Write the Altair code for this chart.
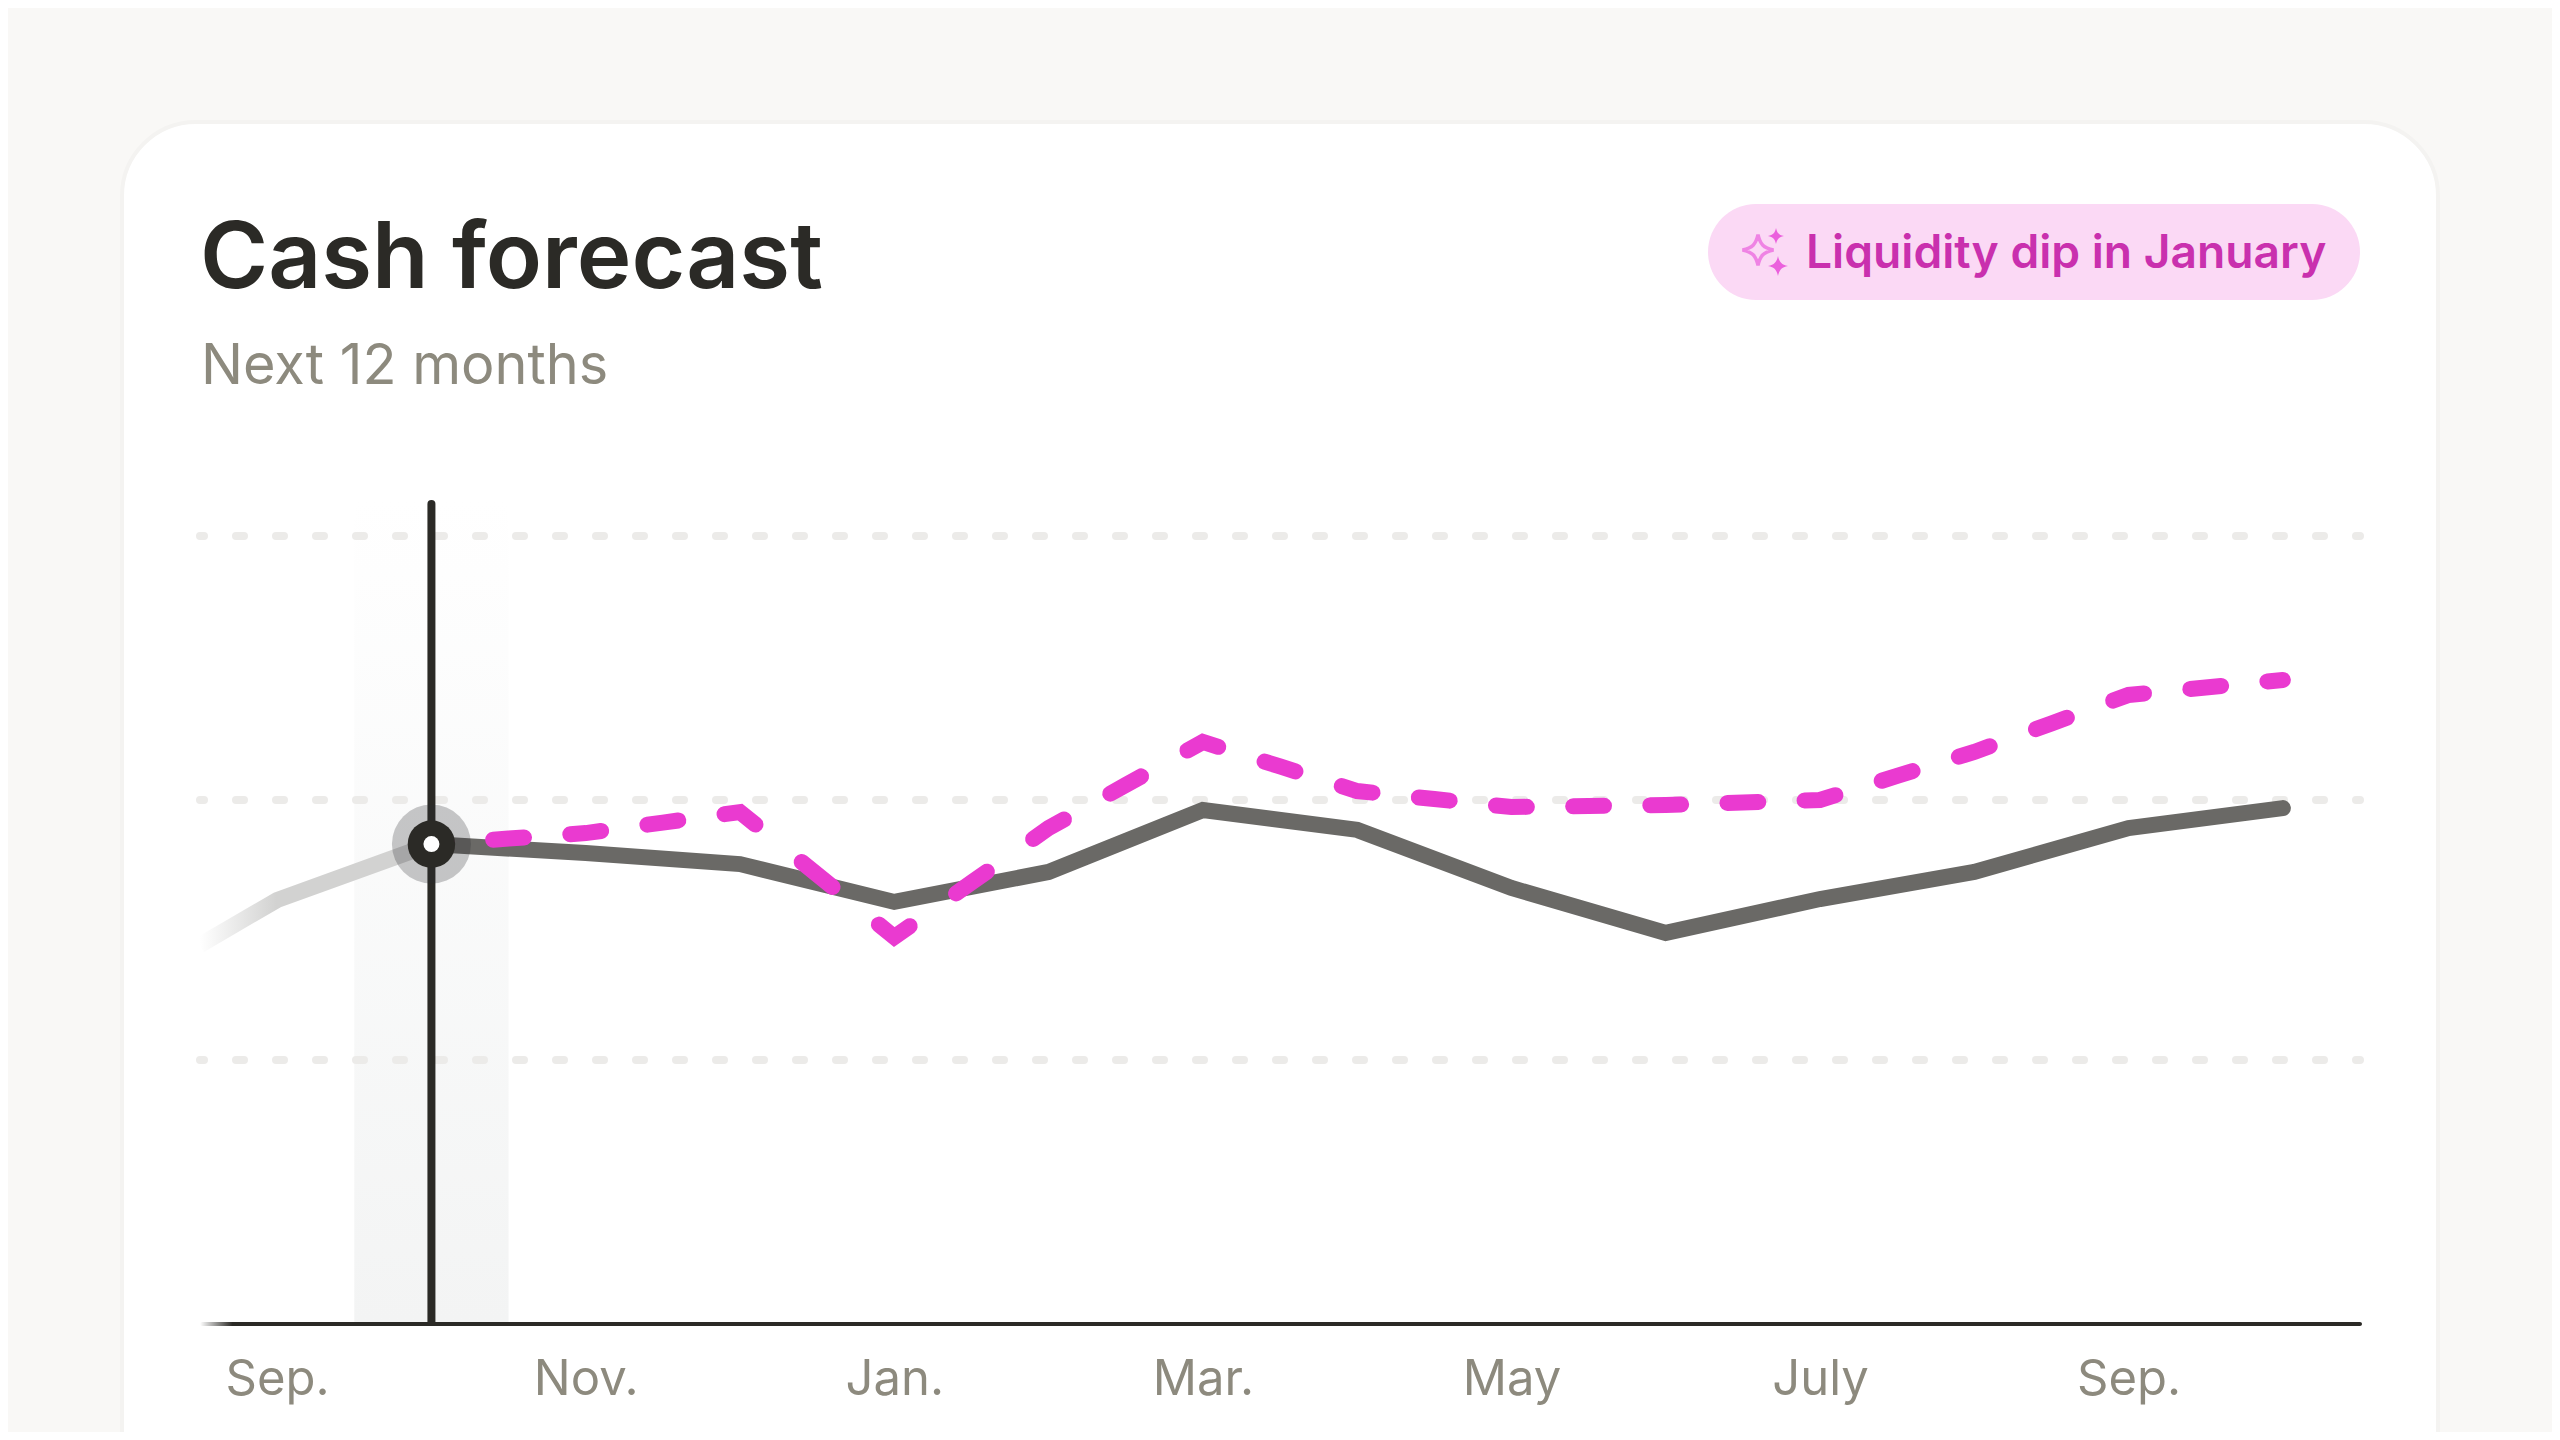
import altair as alt
import numpy as np
import pandas as pd

# ---- data ----
MONTHS = ["Sep.", "Oct.", "Nov.", "Dec.", "Jan.", "Feb.", "Mar.", "Apr.", "May", "June", "July", "Aug.", "Sep.", "Oct."]
TICK_POS = [0, 2, 4, 6, 8, 10, 12]
ACTUAL_X = [-0.5, 0, 1]
ACTUAL_Y = [144.3, 161.4, 182.7]
BASE_X = list(range(1, 14))
BASE_Y = [182.7, 179.3, 175.1, 160.7, 172.1, 195.7, 188.1, 166.0, 148.9, 161.8, 172.1, 188.8, 196.4]
FORECAST_Y = [182.7, 186.9, 194.9, 147.3, 188.8, 221.6, 202.9, 196.8, 197.6, 199.5, 217.8, 239.5, 245.2]
GRID = [100.5, 199.5, 300]
CURSOR_X = 1
CURSOR_Y = 182.7

INK = "#2B2A26"
MUTED = "#8D8A7E"
GRAY = "#6A6966"
MAGENTA = "#EA3AD0"
FONT = "Inter"

W, H = 2160, 788
xs = alt.Scale(domain=[-0.5, 13.5], nice=False, zero=False)
ys = alt.Scale(domain=[0, 300], nice=False, zero=False)
one = pd.DataFrame({"a": [0]})
STAR = "M0,-1 C0.14,-0.36 0.36,-0.14 1,0 C0.36,0.14 0.14,0.36 0,1 C-0.14,0.36 -0.36,0.14 -1,0 C-0.36,-0.14 -0.14,-0.36 0,-1 Z"


def X(field):
    return alt.X(field, scale=xs, title=None)


def Y(field):
    return alt.Y(field, scale=ys, axis=None)


def box(l, r, t, b, **kw):
    return alt.Chart(one).mark_rect(**kw).encode(
        x=alt.value(l), x2=alt.value(r), y=alt.value(t), y2=alt.value(b))


def label(txt, x, y, size, color, weight=400):
    return alt.Chart(pd.DataFrame({"t": [txt]})).mark_text(
        align="left", baseline="alphabetic", font=FONT, fontSize=size, fontWeight=weight, color=color
    ).encode(x=alt.value(x), y=alt.value(y), text="t:N")


def star(x, y, half, **kw):
    return alt.Chart(one).mark_point(shape=STAR, size=(2 * half) ** 2, **kw).encode(
        x=alt.value(x), y=alt.value(y))


card = box(-78, 2238, -414, 1164, fill="#FFFFFF", stroke="#F4F3F1", strokeWidth=4, cornerRadius=74)

band = alt.Chart(pd.DataFrame({"a": [CURSOR_X - 0.5], "b": [CURSOR_X + 0.5]})).mark_rect(
    fill=alt.LinearGradient(gradient="linear", x1=0, y1=0, x2=0, y2=1, stops=[
        alt.GradientStop(color="#FFFFFF", offset=0),
        alt.GradientStop(color="#F3F4F4", offset=1)]),
).encode(x=X("a:Q"), x2=alt.X2("b:Q"), y=alt.value(-36), y2=alt.value(786))

grid = alt.Chart(pd.DataFrame({"g": GRID})).mark_rule(
    color="#ECEBE9", strokeWidth=8, strokeCap="round", strokeDash=[8, 32], strokeDashOffset=4
).encode(y=Y("g:Q"), x=alt.value(0), x2=alt.value(W))

baseline = box(0, 2162, 786, 790, cornerRadius=2,
               fill=alt.LinearGradient(gradient="linear", x1=0, y1=0, x2=1, y2=0, stops=[
                   alt.GradientStop(color="rgba(43,42,38,0)", offset=0),
                   alt.GradientStop(color=INK, offset=0.015),
                   alt.GradientStop(color=INK, offset=1)]))

label_expr = "[" + ",".join(f"'{m}'" for m in MONTHS) + "][datum.value]"
axis_layer = alt.Chart(pd.DataFrame({"x": TICK_POS})).mark_point(opacity=0).encode(
    x=alt.X("x:Q", scale=xs, title=None, axis=alt.Axis(
        values=TICK_POS, labelExpr=label_expr, domain=False, ticks=False, grid=False,
        labelFont=FONT, labelFontSize=49, labelColor=MUTED, labelPadding=31,
        labelFlush=False, labelOverlap=False, labelBound=False, zindex=1)),
    y=alt.value(H))

past = alt.Chart(pd.DataFrame({"x": ACTUAL_X, "y": ACTUAL_Y})).mark_line(
    strokeWidth=16, strokeCap="butt",
    stroke=alt.LinearGradient(gradient="linear", x1=0, y1=0, x2=1, y2=0, stops=[
        alt.GradientStop(color="rgba(210,210,209,0)", offset=0),
        alt.GradientStop(color="#D2D2D1", offset=0.33),
        alt.GradientStop(color="#D2D2D1", offset=1)]),
).encode(x=X("x:Q"), y=Y("y:Q"))

base = alt.Chart(pd.DataFrame({"x": BASE_X, "y": BASE_Y})).mark_line(
    color=GRAY, strokeWidth=16, strokeCap="round", strokeJoin="miter"
).encode(x=X("x:Q"), y=Y("y:Q"))

# The forecast's dashes sit at every month and half month, so each dash is a
# short stretch of the forecast polyline itself.
rows = []
for i, c in enumerate(np.arange(BASE_X[0], BASE_X[-1] + 0.25, 0.5)):
    for px in (c - 0.1, c, c + 0.1):
        if BASE_X[0] <= px <= BASE_X[-1]:
            rows.append({"x": float(px), "y": float(np.interp(px, BASE_X, FORECAST_Y)), "d": i})
forecast = alt.Chart(pd.DataFrame(rows)).mark_line(
    color=MAGENTA, strokeWidth=16, strokeCap="round", strokeJoin="miter"
).encode(x=X("x:Q"), y=Y("y:Q"), detail="d:N")

cursor_df = pd.DataFrame({"x": [CURSOR_X], "y": [CURSOR_Y]})
rule = alt.Chart(cursor_df).mark_rule(color=INK, strokeWidth=8, strokeCap="round").encode(
    x=X("x:Q"), y=alt.value(-32), y2=alt.value(786))


def dot(size, color, opacity=1.0):
    return alt.Chart(cursor_df).mark_point(
        filled=True, shape="circle", size=size, color=color, opacity=opacity, strokeWidth=0
    ).encode(x=X("x:Q"), y=Y("y:Q"))


title = label("Cash forecast", 0, -248, 92.5, INK, 600)
subtitle = label("Next 12 months", 1, -152, 55.8, MUTED, 400)
pill = box(1508, 2160, -332, -236, fill="#FBD9F5", cornerRadius=48)
pill_text = label("Liquidity dip in January", 1606, -268, 46.2, "#C930AE", 600)
icons = [
    star(1558, -286, 15.5, filled=False, color="#EB60DD", strokeWidth=3.5),
    star(1576, -300, 8, filled=True, color="#EB60DD", opacity=1),
    star(1578, -270, 10, filled=True, color="#EB60DD", opacity=1),
]

chart = alt.layer(
    card, band, grid, baseline, axis_layer, past, base, forecast, rule,
    dot(6241, "#2B2B30", 0.26), dot(2256, INK), dot(256, "#FFFFFF"),
    title, subtitle, pill, *icons, pill_text,
).properties(
    width=W, height=H,
    autosize=alt.AutoSizeParams(type="none"),
    padding={"left": 192, "top": 528, "right": 192, "bottom": 108},
    background="#F9F8F6",
).configure_view(stroke=None)

chart.save("out.html", embed_options={"renderer": "svg", "actions": False})
